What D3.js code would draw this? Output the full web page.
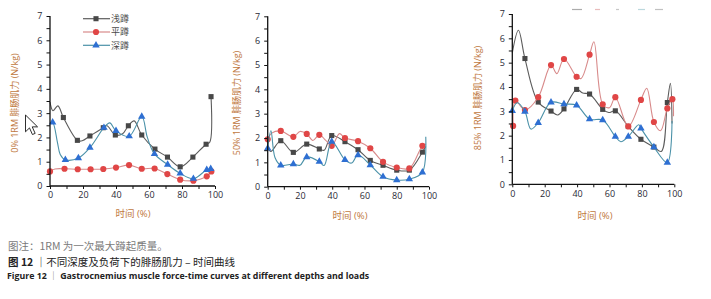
<!DOCTYPE html>
<html>
<head>
<meta charset="utf-8">
<script src="https://cdn.jsdelivr.net/npm/d3@7"></script>
<style>
  body { margin: 0; background: #fff; }
  svg { display: block; }
</style>
</head>
<body>
<svg id="chart" width="711" height="299"></svg>
<script>
// ---- data ----
const xTicks = [0, 20, 40, 60, 80, 100];
const yTicks = [0, 1, 2, 3, 4, 5, 6, 7];
const seriesNames = ["浅蹲", "平蹲", "深蹲"];
const loadLabels = ["0% 1RM 腓肠肌力 (N/kg)", "50% 1RM 腓肠肌力 (N/kg)", "85% 1RM 腓肠肌力 (N/kg)"];
const xTitle = "时间 (%)";

// marked samples [time %, force] and extra curve points without markers
const shallow0 = [[8.1,2.82],[16.6,1.88],[24.2,2.06],[32.3,2.4],[39.6,2.1],[47.5,2.48],[55.6,2.1],[63.6,1.52],[71.2,1.19],[78.9,0.79],[86.6,1.19],[94.6,1.72],[97.6,3.68]];
const shallow0Bends = [[0,3.45],[1.8,3.1],[4.8,3.3],[19.5,1.86],[34.5,2.48],[44,2.15],[51,2.68],[96.8,1.8]];
const flat0 = [[0,0.6],[8.8,0.71],[16.8,0.69],[24.6,0.69],[32.3,0.7],[40,0.76],[47.9,0.86],[55.6,0.71],[63.4,0.72],[71.1,0.49],[78.9,0.26],[86.9,0.22],[95,0.4],[97.8,0.6]];
const flat0Bends = [[3,0.7]];
const deep0 = [[1.6,2.62],[9.3,1.08],[17.2,1.15],[24.2,1.58],[32.7,2.4],[40,2.27],[48,2.05],[55.6,2.86],[63.3,1.32],[71.3,0.88],[78.9,0.52],[86.9,0.3],[95,0.67],[97.4,0.71]];
const deep0Bends = [[0,2.6],[4.5,1.8],[6.2,1.3],[36.2,2.6],[59,2.0]];

const shallow50 = [[8.1,1.89],[15.9,1.41],[24.2,1.75],[32,1.55],[39.7,2.1],[47.9,1.85],[56,1.52],[63.6,1.08],[71.5,0.88],[80,0.68],[87.8,0.68],[95.9,1.42]];
const shallow50Bends = [[0,1.6],[2,1.45],[35,1.5],[98,1.65]];
const flat50 = [[0,1.95],[8.1,2.29],[15.9,2.05],[24.2,2.17],[32,2.13],[39.7,1.68],[47.9,2.0],[56,1.87],[63.6,1.58],[71.5,1.02],[80,0.79],[87.8,0.75],[95.9,1.68]];
const flat50Bends = [[2.5,2.2],[20,2.27],[28,1.9],[36,1.9],[44.5,2.18],[98,1.75]];
const deep50 = [[0,1.58],[8.1,0.88],[15.9,0.93],[24.2,1.22],[32,1.03],[39.7,1.85],[47.9,1.1],[56,1.3],[63.6,0.89],[71.5,0.41],[80,0.27],[87.8,0.31],[95.9,0.59]];
const deep50Bends = [[2,2.3],[4.5,1.2],[20,0.88],[35,0.87],[52,0.97],[98,2.05]];

const shallow85 = [[7.8,5.17],[16,3.38],[23.9,3.01],[31.9,3.1],[39.7,3.9],[47.7,3.71],[55.8,3.08],[63.6,3.02],[71.6,2.38],[79.4,1.85],[87.4,1.53],[95.7,3.36]];
const shallow85Bends = [[0,5.4],[3.8,6.33],[28,2.85],[43.5,3.75],[59.5,2.95],[92,1.35],[97.6,4.15],[98.6,2.5]];
const flat85 = [[0.5,2.4],[1.9,3.44],[7.8,3.05],[16,3.58],[23.9,4.9],[31.9,5.15],[39.7,4.42],[47.7,5.33],[55.8,3.29],[63.6,3.58],[71.6,2.38],[79.4,3.47],[87.4,2.56],[95.7,3.12],[98.8,3.5]];
const flat85Bends = [[27.5,4.55],[42.5,4.35],[50.4,5.86],[60,3.15],[83,3.95],[91.5,2.2],[99.5,2.8]];
const deep85 = [[0,3.02],[7.8,2.99],[16,2.53],[23.9,3.37],[31.9,3.3],[39.7,3.25],[47.7,2.68],[55.8,2.64],[63.6,1.96],[71.6,1.96],[79.4,2.3],[87.4,1.53],[95.7,0.89]];
const deep85Bends = [[3,3.35],[11.5,2.27],[67,1.75],[78,2.45],[98.6,2.6]];

// ---- layout ----
const panels = [
  { label: loadLabels[0], x0: 50, x1: 215, yb: 186, yt: 16, yl: [15, 103], xl: [133, 214], legend: true,
    series: [[shallow0, shallow0Bends], [flat0, flat0Bends], [deep0, deep0Bends]] },
  { label: loadLabels[1], x0: 267.7, x1: 429, yb: 186.7, yt: 16.3, yl: [237, 103], xl: [350, 216],
    series: [[shallow50, shallow50Bends], [flat50, flat50Bends], [deep50, deep50Bends]] },
  { label: loadLabels[2], x0: 512.3, x1: 674.3, yb: 184.3, yt: 14, yl: [478, 98], xl: [595, 216],
    series: [[shallow85, shallow85Bends], [flat85, flat85Bends], [deep85, deep85Bends]] }
];

const styles = [
  { line: "#5c5c5c", mark: "#484848", shape: d3.symbolSquare, size: 26 },
  { line: "#d88a8a", mark: "#e04646", shape: d3.symbolCircle, size: 30 },
  { line: "#4a91a8", mark: "#2e6fd2", shape: d3.symbolTriangle, size: 24 }
];

const svg = d3.select("#chart");
const font = "'Open Sans', 'Noto Sans CJK SC', sans-serif";
const cjk = "'Noto Sans CJK SC', sans-serif";

panels.forEach(p => {
  const x = d3.scaleLinear().domain([0, 100]).range([p.x0, p.x1]);
  const y = d3.scaleLinear().domain([0, 7]).range([p.yb, p.yt]);
  const g = svg.append("g");

  // curves + markers
  p.series.forEach(([marks, bends], i) => {
    const st = styles[i];
    const pts = marks.concat(bends).sort((a, b) => a[0] - b[0]);
    g.append("path")
      .datum(pts)
      .attr("fill", "none")
      .attr("stroke", st.line)
      .attr("stroke-width", 1.1)
      .attr("d", d3.line().x(d => x(d[0])).y(d => y(d[1])).curve(d3.curveCatmullRom.alpha(0.5)));
    g.selectAll(null)
      .data(marks)
      .enter()
      .append("path")
      .attr("transform", d => `translate(${x(d[0])},${y(d[1])})`)
      .attr("d", d3.symbol().type(st.shape).size(st.size))
      .attr("fill", st.mark);
  });

  // y axis: labelled ticks at integers, plain ticks at halves
  g.append("g")
    .attr("transform", `translate(${p.x0},0)`)
    .call(d3.axisLeft(y).tickValues(d3.range(0, 7.01, 0.5)).tickSize(3.5).tickPadding(4)
      .tickFormat(d => yTicks.includes(d) ? d : ""))
    .call(a => a.select(".domain").attr("stroke", "#111").attr("stroke-width", 1.3).attr("d", `M0,${p.yb}V${p.yt}`))
    .call(a => a.selectAll(".tick line").attr("stroke", "#111").attr("stroke-width", 1))
    .call(a => a.selectAll(".tick text").attr("fill", "#2a2a36").style("font", `9px ${font}`));

  // x axis: ticks every 10, labels every 20
  g.append("g")
    .attr("transform", `translate(0,${p.yb})`)
    .call(d3.axisBottom(x).tickValues(d3.range(0, 101, 10)).tickSize(3).tickPadding(3)
      .tickFormat(d => xTicks.includes(d) ? d : ""))
    .call(a => a.select(".domain").attr("stroke", "#111").attr("stroke-width", 1.3).attr("d", `M${p.x0},0H${p.x1}`))
    .call(a => a.selectAll(".tick line").attr("stroke", "#111").attr("stroke-width", 1))
    .call(a => a.selectAll(".tick text").attr("fill", "#2a2a36").style("font", `9px ${font}`));

  // titles
  g.append("text")
    .attr("transform", `translate(${p.yl[0]},${p.yl[1]}) rotate(-90)`)
    .attr("text-anchor", "middle").attr("dy", "0.35em")
    .attr("fill", "#c0783e").style("font", `9px ${font}`)
    .text(p.label);
  g.append("text")
    .attr("x", p.xl[0]).attr("y", p.xl[1]).attr("text-anchor", "middle").attr("dy", "0.35em")
    .attr("fill", "#c0783e").style("font", `9.5px ${font}`)
    .text(xTitle);

  if (p.legend) {
    seriesNames.forEach((name, i) => {
      const st = styles[i];
      const ly = 18.7 + i * 13.3;
      g.append("line").attr("x1", 83).attr("x2", 110).attr("y1", ly).attr("y2", ly)
        .attr("stroke", st.line).attr("stroke-width", 1.2);
      g.append("path").attr("transform", `translate(96,${ly})`)
        .attr("d", d3.symbol().type(st.shape).size(st.size)).attr("fill", st.mark);
      g.append("text").attr("x", 111).attr("y", ly).attr("dy", "0.36em")
        .attr("fill", "#4a4a4a").style("font", `9px ${cjk}`).text(name);
    });
  }
});

// faint remnants of a cropped legend above the third panel
[[572, 582, "#8a8a8a"], [595, 600, "#e0a0a0"], [616, 619, "#b0b0b0"], [638, 645, "#a0c8d0"], [655, 663, "#a8a8a8"]]
  .forEach(([a, b, c]) => svg.append("line").attr("x1", a).attr("x2", b).attr("y1", 9.5).attr("y2", 9.5)
    .attr("stroke", c).attr("stroke-width", 1.2).attr("opacity", 0.7));

// mouse pointer captured in the screenshot
svg.append("path")
  .attr("transform", "translate(25.5,115) scale(1.05)")
  .attr("d", "M0,0 L0,16 L3.8,12.3 L6.6,18.6 L9.2,17.5 L6.4,11.3 L11.5,11.3 Z")
  .attr("fill", "#fff").attr("stroke", "#222").attr("stroke-width", 0.9);

// captions
svg.append("text").attr("x", 8).attr("y", 246).attr("dy", "0.35em")
  .attr("fill", "#7a7a7a").style("font", `10.5px ${cjk}`)
  .text("图注：1RM 为一次最大蹲起质量。");
const c2 = svg.append("text").attr("x", 8).attr("y", 262).attr("dy", "0.35em")
  .attr("fill", "#222").style("font", `10.5px ${cjk}`);
c2.append("tspan").attr("font-weight", "bold").text("图 12 ");
c2.append("tspan").text("｜不同深度及负荷下的腓肠肌力 – 时间曲线");
const c3 = svg.append("text").attr("x", 7).attr("y", 276).attr("dy", "0.35em")
  .attr("fill", "#222").attr("font-weight", "bold").style("font-family", font).style("font-size", "8.8px");
c3.append("tspan").text("Figure 12  ");
c3.append("tspan").attr("font-weight", "normal").attr("fill", "#777").text("｜");
c3.append("tspan").text("  Gastrocnemius muscle force-time curves at different depths and loads");
</script>
</body>
</html>
